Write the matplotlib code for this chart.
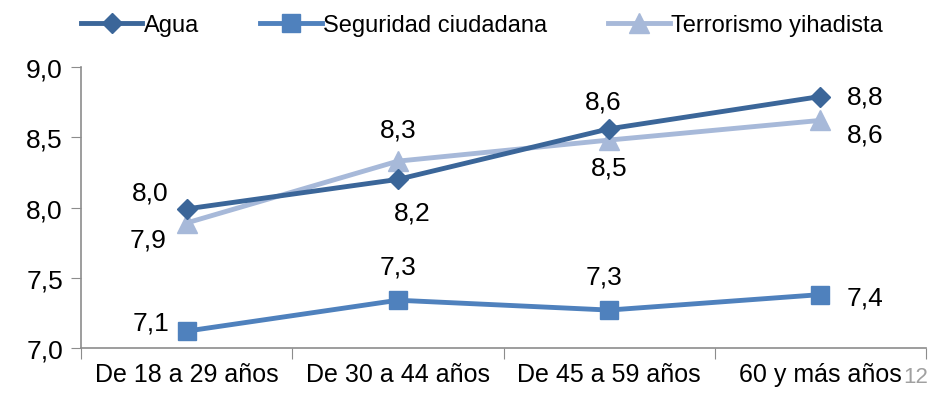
import matplotlib
matplotlib.use("Agg")
import matplotlib.pyplot as plt
from matplotlib import font_manager

# fuente estrecha si existe
names = {f.name for f in font_manager.fontManager.ttflist}
if "Liberation Sans Narrow" in names:
    plt.rcParams['font.family'] = ['Liberation Sans Narrow', 'DejaVu Sans']
else:
    plt.rcParams['font.family'] = ['Liberation Sans', 'DejaVu Sans']

categorias = ["De 18 a 29 años", "De 30 a 44 años", "De 45 a 59 años", "60 y más años"]
agua = [7.99, 8.20, 8.56, 8.79]
seguridad = [7.12, 7.34, 7.27, 7.38]
terrorismo = [7.89, 8.33, 8.48, 8.62]
yticks = [7.0, 7.5, 8.0, 8.5, 9.0]

c_agua = "#3B6699"
c_seg = "#4F81BD"
c_terr = "#A7B9D9"

fig = plt.figure(figsize=(9.3, 4.06), dpi=100)
ax = fig.add_axes([0.0871, 0.1404, 0.9086, 0.6921])

x = list(range(len(categorias)))
ax.plot(x, seguridad, color=c_seg, lw=3.5, marker="s", ms=13, label="Seguridad ciudadana", zorder=3)
ax.plot(x, terrorismo, color=c_terr, lw=3.5, marker="^", ms=14, label="Terrorismo yihadista", zorder=4)
ax.plot(x, agua, color=c_agua, lw=3.5, marker="D", ms=10, label="Agua", zorder=5)

fs = 19
fmt = lambda v: f"{v:.1f}".replace(".", ",")

# etiquetas de datos (desplazamientos en puntos)
off_agua = [(-26, 12), (10, -24), (-4, 20), (32, 0)]
off_terr = [(-28, -12), (0, 23), (0, -20), (32, -10)]
off_seg = [(-26, 6), (0, 24), (-4, 24), (32, -2)]
for vals, offs in [(agua, off_agua), (terrorismo, off_terr), (seguridad, off_seg)]:
    for i, v in enumerate(vals):
        ax.annotate(fmt(v), (i, v), xytext=offs[i], textcoords="offset points",
                    ha="center", va="center", fontsize=fs, color="black")

ax.set_xlim(-0.5, 3.5)
ax.set_ylim(7.0, 9.0)
ax.set_yticks(yticks)
ax.set_yticklabels([fmt(t) for t in yticks], fontsize=fs)
ax.set_xticks([i - 0.5 for i in range(len(categorias) + 1)])
ax.set_xticklabels([])
ax.set_xticks(x, minor=True)
ax.set_xticklabels(categorias, minor=True, fontsize=18)
ax.tick_params(axis="x", which="minor", length=0, pad=10)
ax.tick_params(axis="x", which="major", length=8, color="#8C8C8C", direction="out")
ax.tick_params(axis="y", length=7, color="#8C8C8C", pad=6)

for s in ["top", "right"]:
    ax.spines[s].set_visible(False)
for s in ["left", "bottom"]:
    ax.spines[s].set_color("#8C8C8C")
    ax.spines[s].set_linewidth(1.2)

h, l = ax.get_legend_handles_labels()
order = [2, 0, 1]
fig.legend([h[i] for i in order], [l[i] for i in order], loc="upper center",
           bbox_to_anchor=(0.518, 1.015), ncol=3, frameon=False, fontsize=17,
           handlelength=2.6, handletextpad=0.05, columnspacing=2.6)

fig.text(0.985, 0.07, "12", color="#A0A0A0", fontsize=16, ha="center", va="center")

fig.savefig("out.png", dpi=100)
